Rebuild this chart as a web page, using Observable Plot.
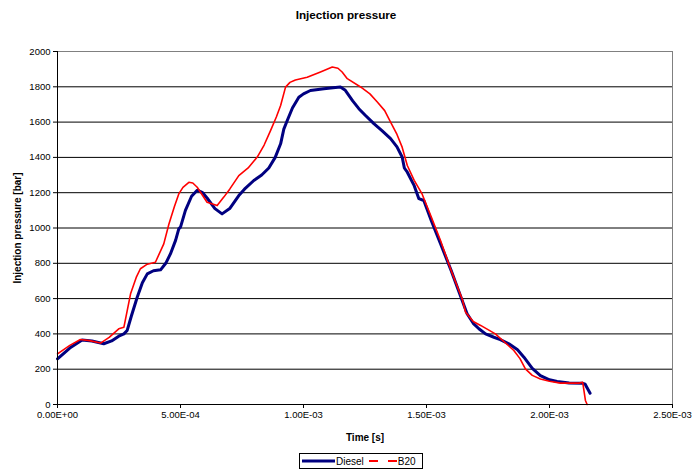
<!DOCTYPE html>
<html><head><meta charset="utf-8">
<script src="https://cdn.jsdelivr.net/npm/d3@7"></script>
<script src="https://cdn.jsdelivr.net/npm/@observablehq/plot@0.6"></script>
<style>
body{margin:0;background:#fff;font-family:"Liberation Sans",Arial,sans-serif;position:relative;width:692px;height:472px;}
#title{height:30px;line-height:30px;text-align:center;font-weight:bold;font-size:11.7px;color:#000;}
#chart svg{display:block;}
#legend{position:absolute;left:299px;top:453px;}
#legend .box{display:flex;align-items:center;border:1px solid #000;box-sizing:border-box;height:16px;padding:0 3px 0 1px;font-size:10px;white-space:nowrap;}
#legend svg{flex-shrink:0;display:block;}
#legend span{margin:0 3px 0 1px;flex-shrink:0;}
</style></head><body>
<div id="title">Injection pressure</div>
<div id="chart"></div>
<div id="legend"></div>
<script>
const seriesNames = ["Diesel", "B20"];
const seriesColors = ["#000080", "#ff0000"];

// Time in ms (converted to seconds below), pressure in bar
const dieselTimeMs = [0, 0.05, 0.10, 0.14, 0.188, 0.22, 0.249, 0.27, 0.283, 0.30, 0.324, 0.345, 0.365, 0.39, 0.419, 0.44, 0.459, 0.48, 0.493, 0.50, 0.52, 0.545, 0.568, 0.59, 0.608, 0.64, 0.669, 0.70, 0.737, 0.76, 0.798, 0.83, 0.859, 0.885, 0.907, 0.92, 0.934, 0.955, 0.981, 1.00, 1.028, 1.083, 1.12, 1.15, 1.17, 1.20, 1.225, 1.25, 1.286, 1.32, 1.354, 1.38, 1.401, 1.41, 1.422, 1.45, 1.469, 1.489, 1.52, 1.557, 1.60, 1.645, 1.665, 1.69, 1.713, 1.74, 1.774, 1.80, 1.835, 1.87, 1.896, 1.93, 1.963, 2.00, 2.031, 2.08, 2.133, 2.145, 2.165];
const dieselPressure = [259, 320, 365, 360, 344, 360, 387, 400, 419, 500, 608, 690, 740, 758, 763, 800, 853, 930, 995, 1005, 1100, 1180, 1214, 1200, 1170, 1110, 1080, 1110, 1184, 1220, 1269, 1300, 1340, 1400, 1477, 1560, 1609, 1680, 1741, 1760, 1779, 1789, 1795, 1799, 1780, 1720, 1676, 1640, 1591, 1550, 1506, 1460, 1402, 1340, 1316, 1240, 1166, 1156, 1040, 911, 760, 589, 514, 460, 429, 400, 381, 368, 344, 310, 268, 205, 164, 140, 130, 122, 121, 115, 64];

const b20TimeMs = [0, 0.05, 0.093, 0.13, 0.175, 0.21, 0.249, 0.27, 0.297, 0.32, 0.337, 0.365, 0.398, 0.432, 0.453, 0.475, 0.493, 0.51, 0.534, 0.55, 0.568, 0.608, 0.649, 0.676, 0.70, 0.737, 0.775, 0.812, 0.84, 0.866, 0.89, 0.907, 0.927, 0.945, 0.967, 1.015, 1.069, 1.117, 1.14, 1.157, 1.178, 1.232, 1.27, 1.30, 1.33, 1.354, 1.38, 1.401, 1.422, 1.45, 1.482, 1.52, 1.557, 1.60, 1.645, 1.659, 1.69, 1.72, 1.78, 1.82, 1.855, 1.88, 1.902, 1.93, 1.963, 2.00, 2.045, 2.119, 2.135, 2.146, 2.153];
const b20Pressure = [287, 335, 368, 362, 348, 380, 429, 438, 627, 720, 769, 795, 806, 910, 1023, 1120, 1193, 1230, 1259, 1255, 1231, 1146, 1127, 1175, 1220, 1297, 1340, 1402, 1470, 1552, 1630, 1694, 1798, 1825, 1839, 1854, 1884, 1912, 1905, 1884, 1846, 1799, 1760, 1714, 1665, 1600, 1530, 1458, 1354, 1270, 1193, 1060, 929, 760, 598, 523, 470, 448, 400, 350, 306, 260, 202, 165, 145, 132, 121, 121, 126, 23, 0];

const xTicks = [0, 0.0005, 0.001, 0.0015, 0.002, 0.0025];
const yTicks = [0, 200, 400, 600, 800, 1000, 1200, 1400, 1600, 1800, 2000];

const data = [];
dieselTimeMs.forEach((t, i) => data.push({series: "Diesel", t: t / 1000, p: dieselPressure[i]}));
b20TimeMs.forEach((t, i) => data.push({series: "B20", t: t / 1000, p: b20Pressure[i]}));

function sci(d) {
  if (d === 0) return "0.00E+00";
  const e = Math.floor(Math.log10(Math.abs(d)) + 1e-9);
  const m = d / Math.pow(10, e);
  return m.toFixed(2) + "E" + (e < 0 ? "-" : "+") + String(Math.abs(e)).padStart(2, "0");
}

const chart = Plot.plot({
  width: 692,
  height: 422,
  marginTop: 21,
  marginBottom: 48,
  marginLeft: 57,
  marginRight: 20,
  style: {fontFamily: '"Liberation Sans", Arial, sans-serif', fontSize: "9.5px", color: "#000", background: "#fff"},
  x: {domain: [0, 0.0025]},
  y: {domain: [0, 2000]},
  color: {domain: seriesNames, range: seriesColors},
  marks: [
    Plot.ruleY(yTicks.filter(d => d > 0 && d < 2000), {stroke: "#000", strokeWidth: 1}),
    Plot.ruleY([2000], {stroke: "#808080", strokeWidth: 1}),
    Plot.ruleX([0.0025], {stroke: "#808080", strokeWidth: 1}),
    Plot.line(data.filter(d => d.series === "Diesel"), {x: "t", y: "p", stroke: seriesColors[0], strokeWidth: 3, strokeLinejoin: "round"}),
    Plot.line(data.filter(d => d.series === "B20"), {x: "t", y: "p", stroke: seriesColors[1], strokeWidth: 1.6, strokeLinejoin: "round"}),
    Plot.ruleX([0], {stroke: "#000"}),
    Plot.ruleY([0], {stroke: "#000"}),
    Plot.axisX({ticks: xTicks, tickFormat: sci, tickSize: 4, tickPadding: 3, label: "Time [s]", labelArrow: "none", labelAnchor: "center", labelOffset: 36, fontSize: 9.5}),
    Plot.axisY({ticks: yTicks, tickFormat: d => String(d), tickSize: 4, tickPadding: 3, label: "Injection pressure [bar]", labelArrow: "none", labelAnchor: "center", labelOffset: 44, fontSize: 9.5})
  ]
});
document.getElementById("chart").appendChild(chart);
// bold axis labels
chart.querySelectorAll("[aria-label='x-axis label'] text, [aria-label='y-axis label'] text").forEach(t => {
  t.setAttribute("font-weight", "bold");
  t.setAttribute("font-size", "10");
});

const legend = document.getElementById("legend");
const box = document.createElement("div");
box.className = "box";
seriesNames.forEach((name, i) => {
  const ns = "http://www.w3.org/2000/svg";
  const s = document.createElementNS(ns, "svg");
  s.setAttribute("width", i === 0 ? 34 : 30); s.setAttribute("height", 10);
  const l = document.createElementNS(ns, "line");
  l.setAttribute("x1", i === 0 ? 1 : 2); l.setAttribute("x2", i === 0 ? 34 : 30); l.setAttribute("y1", 5); l.setAttribute("y2", 5);
  l.setAttribute("stroke", seriesColors[i]);
  l.setAttribute("stroke-width", i === 0 ? 3 : 2);
  if (i === 1) l.setAttribute("stroke-dasharray", "9,10");
  s.appendChild(l);
  box.appendChild(s);
  const sp = document.createElement("span");
  sp.textContent = name;
  box.appendChild(sp);
});
legend.appendChild(box);
</script>
</body></html>
